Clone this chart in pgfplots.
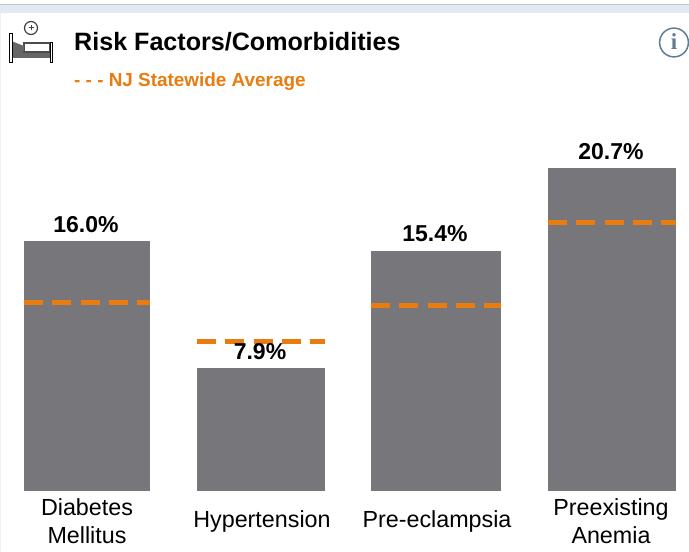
\documentclass[border=0pt]{standalone}
\usepackage{pgfplots}
\pgfplotsset{compat=1.18}
\usepackage{fontspec}
\setmainfont{Liberation Sans}
\newfontfamily\serifi{Liberation Serif}
\definecolor{bargray}{HTML}{77767B}
\definecolor{avgorange}{HTML}{E87C0E}
\definecolor{strip}{HTML}{E2E9F2}
\definecolor{infoc}{HTML}{5F7C94}
\begin{document}
\begin{tikzpicture}[x=1pt,y=1pt]
\path[use as bounding box] (0,-61) rectangle (689,491);
\fill[strip] (0,478) rectangle (689,486);
\fill[black!22] (0,486) rectangle (689,486.8);
\fill[black!6] (0,-61) rectangle (0.8,478);
\begin{axis}[
  at={(0,0)},anchor=origin,
  scale only axis,width=689pt,height=491pt,
  xmin=0,xmax=689,ymin=0,ymax=31.474,
  axis line style={draw=none},
  ytick=\empty,
  xtick={87,262,437,611},
  xticklabels={Diabetes\\Mellitus,Hypertension,Pre-eclampsia,Preexisting\\Anemia},
  major tick length=0pt,
  xticklabel style={anchor=center,align=center,yshift=-30pt,font=\fontsize{23.3}{28}\selectfont,text=black},
  clip=false,
  nodes near coords={\pgfmathprintnumber[fixed,fixed zerofill,precision=1]{\pgfplotspointmeta}\%},
  point meta=y,
  nodes near coords style={font=\bfseries\fontsize{23}{23}\selectfont,text=black,anchor=south,xshift=-1pt,yshift=5pt,/pgf/number format/assume math mode=true},
]
\addplot[ybar,bar width=126pt,fill=bargray,draw=none] coordinates {(87,16.0)};
\addplot[ybar,bar width=128pt,fill=bargray,draw=none] coordinates {(261,7.9)};
\addplot[ybar,bar width=130pt,fill=bargray,draw=none] coordinates {(436,15.4)};
\addplot[ybar,bar width=128pt,fill=bargray,draw=none] coordinates {(612,20.7)};
\addplot[avgorange,line width=4.7pt,dash pattern=on 19pt off 9.3pt,nodes near coords={}] coordinates {(24,12.1) (150,12.1)};
\addplot[avgorange,line width=5.3pt,dash pattern=on 19pt off 9.3pt,nodes near coords={}] coordinates {(197,9.6) (325,9.6)};
\addplot[avgorange,line width=4.7pt,dash pattern=on 19pt off 9.3pt,nodes near coords={}] coordinates {(371,11.9) (501,11.9)};
\addplot[avgorange,line width=4.7pt,dash pattern=on 19pt off 9.3pt,nodes near coords={}] coordinates {(548,17.2) (676,17.2)};
\end{axis}
\node[anchor=base west,inner sep=0pt,font=\bfseries\fontsize{25.1}{25}\selectfont] at (74,440.5) {Risk Factors/Comorbidities};
\node[anchor=base west,inner sep=0pt,font=\bfseries\fontsize{18.9}{19}\selectfont,text=avgorange] at (74,404) {- - - NJ Statewide Average};
% bed icon
\draw[black!75,line width=1.2pt] (31,463) circle (6.5);
\draw[black!75,line width=1pt] (28.5,463) -- (33.5,463) (31,460.5) -- (31,465.5);
\fill[black!60] (12,433) rectangle (50,439.5);
\draw[black!70,line width=1.2pt] (24,439) rectangle (49.5,448);
\fill[black!60] (12.5,449.5) -- (24,445) -- (24,440) -- (12.5,440) -- cycle;
\draw[black,line width=1pt,fill=white] (9.8,428.5) rectangle (12.5,457);
\draw[black,line width=1pt,fill=white] (50,428.5) rectangle (52.7,448);
% info icon
\draw[infoc,line width=1.5pt] (674,448.5) circle (14.4);
\node[infoc,font=\serifi\bfseries\fontsize{23}{23}\selectfont,inner sep=0pt] at (674,449) {i};
\end{tikzpicture}
\end{document}
